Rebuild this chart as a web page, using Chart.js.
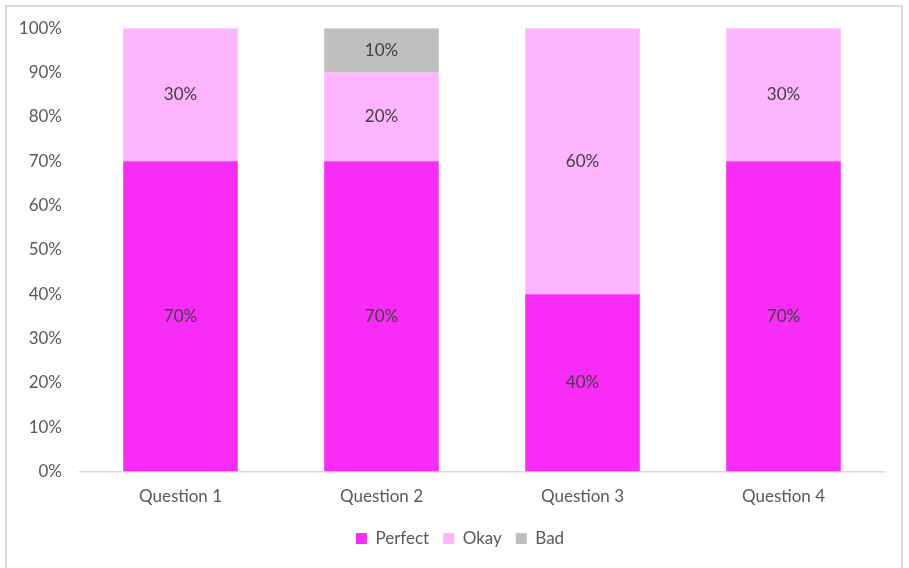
<!DOCTYPE html>
<html>
<head>
<meta charset="utf-8">
<script src="https://cdn.jsdelivr.net/npm/chart.js@4"></script>
<style>
  html, body { margin: 0; padding: 0; background: #fff; }
  .wrap { position: relative; width: 909px; height: 568px; overflow: hidden; }
  .frame { position: absolute; left: 5px; top: 5px; width: 898px; height: 600px; border: 2px solid #d9d9d9; box-sizing: border-box; }
  canvas { position: absolute; left: 0; top: 0; }
</style>
</head>
<body>
<div class="wrap">
  <div class="frame"></div>
  <canvas id="stackChart" width="909" height="568"></canvas>
</div>
<script>
const questions = ['Question 1', 'Question 2', 'Question 3', 'Question 4'];
const perfect = [70, 70, 40, 70];
const okay = [30, 20, 60, 30];
const bad = [0, 10, 0, 0];
const yTicks = [0, 10, 20, 30, 40, 50, 60, 70, 80, 90, 100];

const textColor = '#595959';
const fontFamily = 'Lato, "Open Sans", sans-serif';

// draws the value in the middle of each segment (no datalabels plugin here)
const segmentLabels = {
    id: 'segmentLabels',
    afterDatasetsDraw(chart) {
        const ctx = chart.ctx;
        ctx.save();
        ctx.font = '17px ' + fontFamily;
        ctx.fillStyle = '#404040';
        ctx.textAlign = 'center';
        ctx.textBaseline = 'middle';
        chart.data.datasets.forEach((ds, i) => {
            chart.getDatasetMeta(i).data.forEach((bar, j) => {
                const v = ds.data[j];
                if (!v) return;
                ctx.fillText(v + '%', bar.x, (bar.y + bar.base) / 2);
            });
        });
        ctx.restore();
    }
};

// nudge the legend a bit to the right like the original
const legendShift = {
    id: 'legendShift',
    afterLayout(chart) {
        chart.legend.left += 18;
        chart.legend.right += 18;
    }
};

new Chart(document.getElementById('stackChart').getContext('2d'), {
    type: 'bar',
    data: {
        labels: questions,
        datasets: [
            { label: 'Perfect', data: perfect, backgroundColor: '#f92cf7' },
            { label: 'Okay', data: okay, backgroundColor: '#fdb5fd' },
            { label: 'Bad', data: bad, backgroundColor: '#bfbfbf' }
        ]
    },
    options: {
        responsive: false,
        animation: false,
        layout: { padding: { top: 21, right: 25, bottom: 11, left: 0 } },
        datasets: { bar: { categoryPercentage: 1, barPercentage: 0.57 } },
        plugins: {
            tooltip: { enabled: false },
            legend: {
                position: 'bottom',
                labels: {
                    boxWidth: 11, boxHeight: 11, padding: 14,
                    color: textColor, font: { size: 17, family: fontFamily }
                }
            }
        },
        scales: {
            x: {
                stacked: true,
                afterFit(scale) { scale.height -= 6; },
                grid: { display: false, drawTicks: false },
                border: { display: true, color: '#d9d9d9', width: 1.5 },
                ticks: { color: textColor, font: { size: 17, family: fontFamily }, padding: 15 }
            },
            y: {
                stacked: true,
                min: 0,
                max: 100,
                afterFit(scale) { scale.width = 80; },
                afterBuildTicks(scale) { scale.ticks = yTicks.map(v => ({ value: v })); },
                grid: { display: false, drawTicks: false },
                border: { display: false },
                ticks: {
                    color: textColor, font: { size: 17, family: fontFamily }, padding: 18,
                    callback: v => v + '%'
                }
            }
        }
    },
    plugins: [segmentLabels, legendShift]
});
</script>
</body>
</html>
